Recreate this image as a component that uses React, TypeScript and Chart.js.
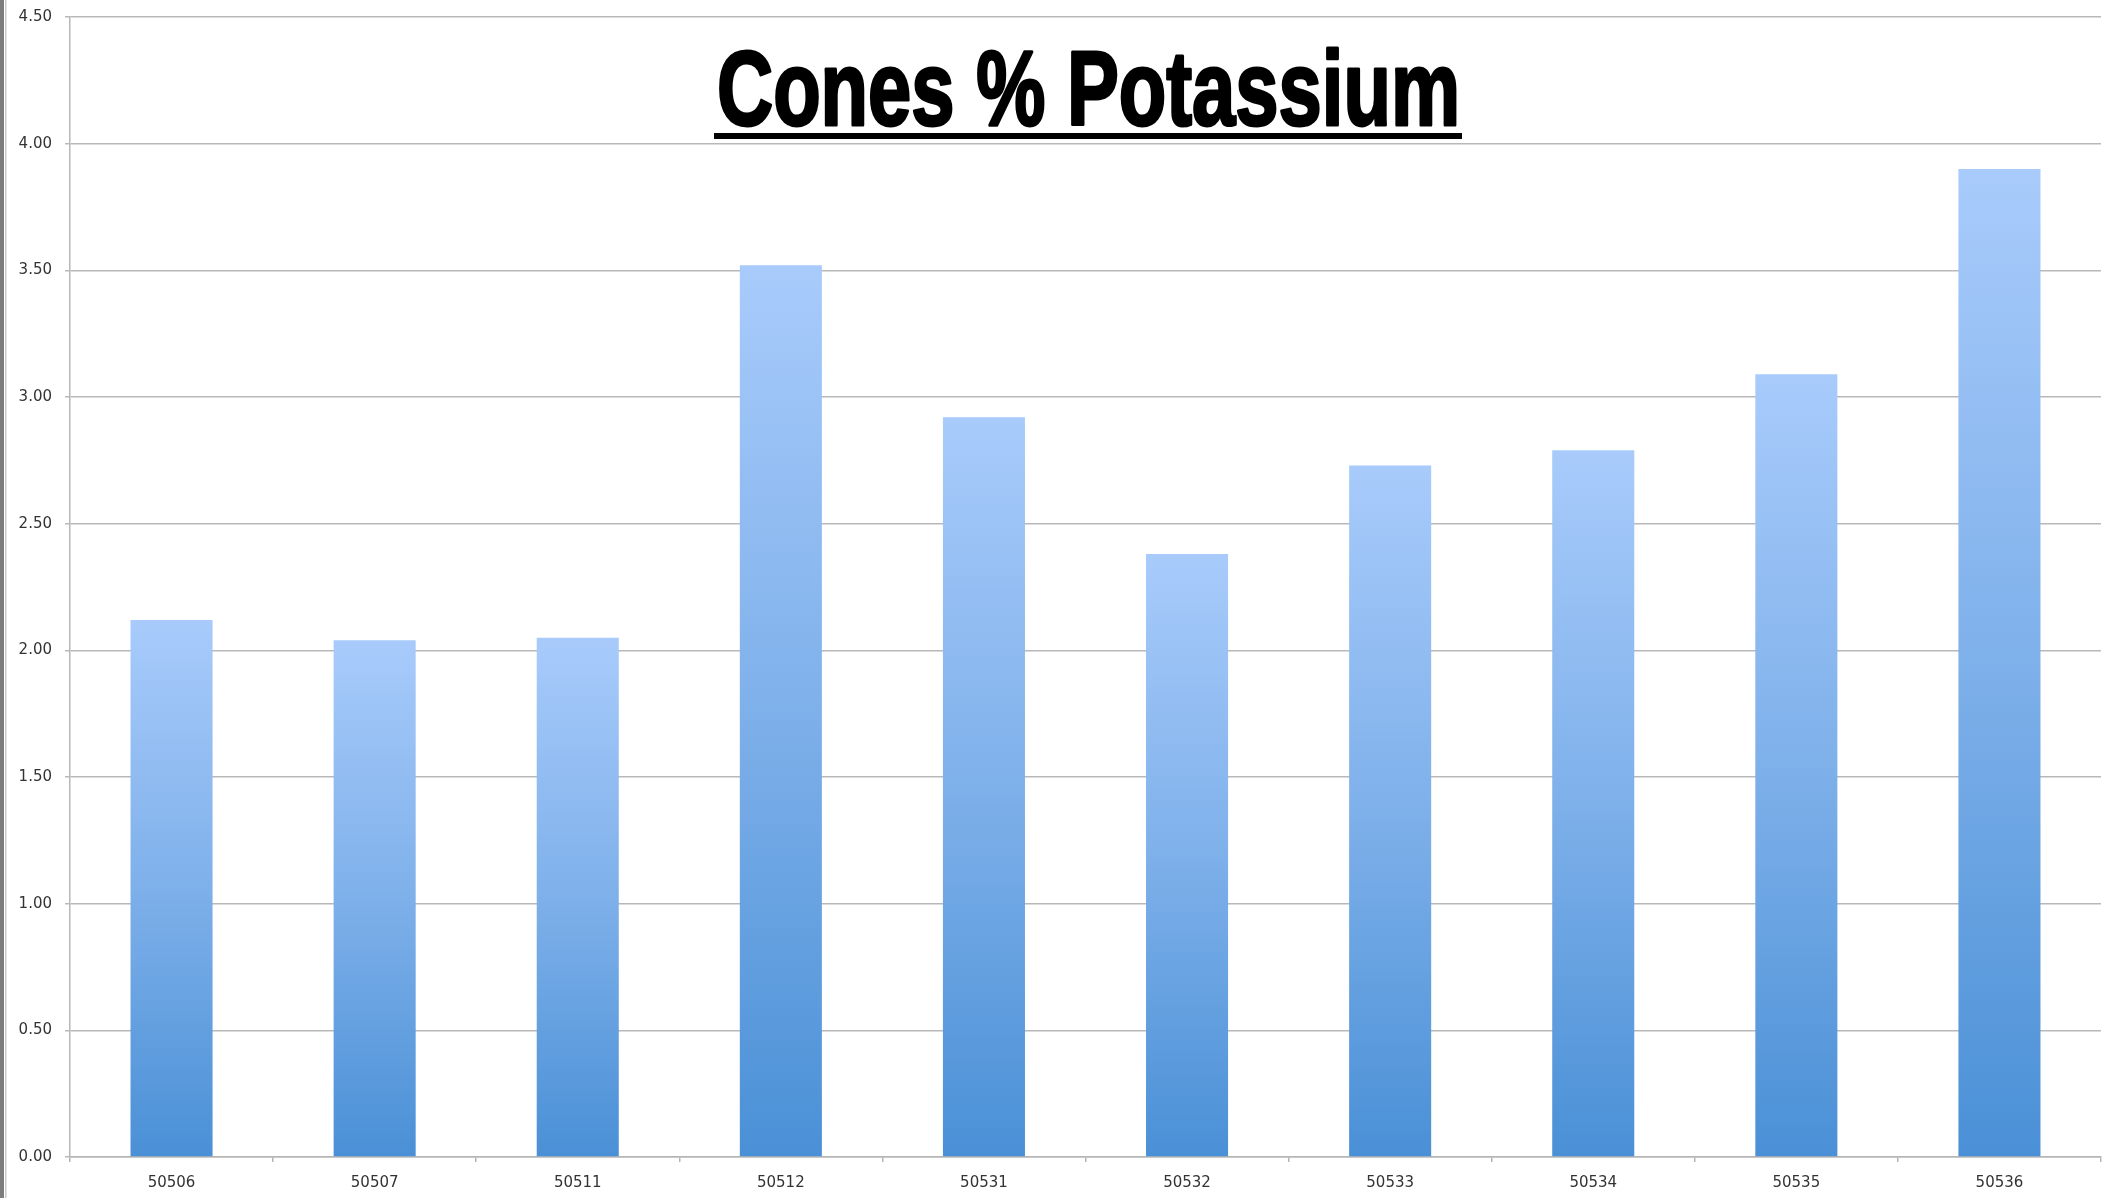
import React, { useEffect, useRef } from "react";
import { Chart, registerables } from "chart.js";

Chart.register(...registerables);

const categories = ["50506", "50507", "50511", "50512", "50531", "50532", "50533", "50534", "50535", "50536"];
const potassium = [2.12, 2.04, 2.05, 3.52, 2.92, 2.38, 2.73, 2.79, 3.09, 3.90];
const yTicks = { min: 0, max: 4.5, step: 0.5 };
const titleText = "Cones % Potassium";

const W = 2105;
const H = 1198;

const decorPlugin = {
  id: "decor",
  afterDraw(chart: any) {
    const ctx = chart.ctx as CanvasRenderingContext2D;
    ctx.save();
    // left edge strip
    ctx.fillStyle = "#7c7c7c";
    ctx.fillRect(0, 0, 4, chart.height);
    ctx.fillStyle = "#c8c8c8";
    ctx.fillRect(5, 0, 1.5, chart.height);
    // title
    const left = 717;
    const right = 1460;
    const baseline = 125;
    ctx.font = 'bold 106px "Liberation Sans", Arial, sans-serif';
    const w = ctx.measureText(titleText).width;
    const sx = (right - left) / w;
    ctx.translate(left, baseline);
    ctx.scale(sx, 1);
    ctx.fillStyle = "#000";
    ctx.textAlign = "left";
    ctx.textBaseline = "alphabetic";
    ctx.fillText(titleText, 0, 0);
    ctx.strokeStyle = "#000";
    ctx.lineWidth = 3;
    ctx.lineJoin = "round";
    ctx.strokeText(titleText, 0, 0);
    ctx.restore();
    ctx.save();
    ctx.fillStyle = "#000";
    ctx.fillRect(714, 133, 748, 6);
    ctx.restore();
  },
};

export default function App() {
  const ref = useRef<HTMLCanvasElement | null>(null);
  useEffect(() => {
    if (!ref.current) return;
    const chart = new Chart(ref.current, {
      type: "bar",
      data: {
        labels: categories,
        datasets: [
          {
            label: titleText,
            data: potassium,
            categoryPercentage: 1,
            barPercentage: 0.404,
            backgroundColor: (c: any) => {
              const ch = c.chart;
              if (!ch.chartArea || c.raw == null) return "#7aaee8";
              const y = ch.scales.y;
              const top = y.getPixelForValue(c.raw);
              const bottom = y.getPixelForValue(0);
              const g = ch.ctx.createLinearGradient(0, top, 0, bottom);
              g.addColorStop(0, "#a8cbfb");
              g.addColorStop(0.5, "#7eb0ea");
              g.addColorStop(1, "#4a90d6");
              return g;
            },
            borderWidth: 0,
          },
        ],
      },
      options: {
        animation: false,
        responsive: false,
        maintainAspectRatio: false,
        layout: { padding: { top: 17, right: 4, left: 0, bottom: 0 } },
        plugins: {
          legend: { display: false },
          title: { display: false },
          tooltip: { enabled: false },
        },
        scales: {
          x: {
            grid: {
              display: true,
              drawOnChartArea: false,
              drawTicks: true,
              tickLength: 5,
              offset: true,
              color: "#b5b5b5",
              lineWidth: 1.5,
            },
            border: { display: true, color: "#b5b5b5", width: 1.5 },
            ticks: {
              color: "#333",
              font: { family: '"DejaVu Sans", sans-serif', size: 15 },
              padding: 12,
              maxRotation: 0,
            },
            afterFit: (s: any) => {
              s.height = 41;
              s.paddingLeft = 0;
              s.paddingRight = 0;
            },
          },
          y: {
            min: yTicks.min,
            max: yTicks.max,
            grid: {
              color: "#b8b8b8",
              lineWidth: 1.5,
              drawTicks: true,
              tickLength: 5,
            },
            border: { display: true, color: "#b8b8b8", width: 1.5 },
            ticks: {
              stepSize: yTicks.step,
              color: "#333",
              font: { family: '"DejaVu Sans", sans-serif', size: 15 },
              padding: 13,
              callback: (v: any) => Number(v).toFixed(2),
            },
            afterFit: (s: any) => {
              s.width = 70;
              s.paddingTop = 0;
              s.paddingBottom = 0;
            },
          },
        },
      },
      plugins: [decorPlugin],
    });
    return () => chart.destroy();
  }, []);
  return (
    <div style={{ position: "fixed", left: 0, top: 0, width: W, height: H, background: "#fff" }}>
      <canvas ref={ref} width={W} height={H} style={{ width: W, height: H, display: "block" }} />
    </div>
  );
}
